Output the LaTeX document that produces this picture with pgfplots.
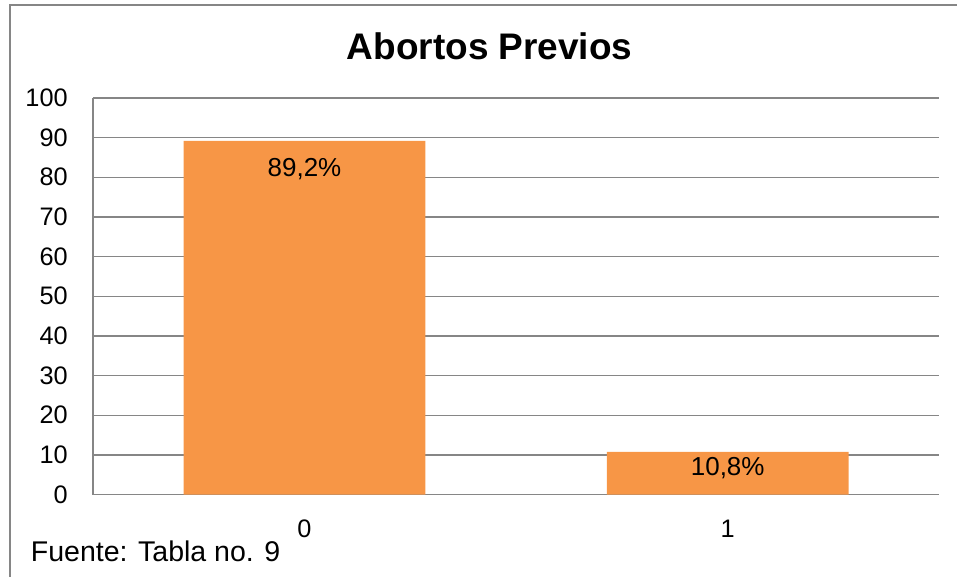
\documentclass[border=0pt]{standalone}
\usepackage{pgfplots}
\pgfplotsset{compat=1.18}
\usepackage{fontspec}
\setmainfont{Liberation Sans}
\definecolor{gridgray}{HTML}{868686}
\definecolor{barorange}{HTML}{F79646}
\begin{document}
\begin{tikzpicture}
\path (0pt,0pt) rectangle (718.5pt,432.75pt);
\draw[gridgray, line width=1.1pt] (7.5pt,0pt) -- (7.5pt,429pt) -- (718.5pt,429pt);
\node[anchor=base, inner sep=0pt, font=\fontsize{27.75pt}{30pt}\selectfont\bfseries] at (367.5pt,388.3pt) {Abortos Previos};
\node[anchor=base west, inner sep=0pt, font=\fontsize{21.4pt}{24pt}\selectfont] at (23pt,11.5pt) {Fuente: Tabla no. 9};
\begin{axis}[
  at={(69.75pt,61.5pt)}, anchor=south west,
  scale only axis, width=635.25pt, height=297.75pt,
  xmin=-0.5, xmax=1.5, ymin=0, ymax=100,
  xtick={0,1}, xticklabels={0,1},
  ytick={0,10,...,100},
  axis lines*=left,
  axis line style={draw=gridgray, line width=1pt, -},
  ymajorgrids, major grid style={draw=gridgray, line width=1pt},
  tick style={draw=none},
  tick label style={font=\fontsize{19pt}{22pt}\selectfont},
  yticklabel style={anchor=east, inner sep=0pt, xshift=-18.75pt},
  xticklabel style={anchor=north, inner sep=0pt, yshift=-14.5pt},
  /pgf/number format/assume math mode=true,
  ybar, bar width=181.5pt,
  point meta=y,
  visualization depends on={\thisrow{off} \as \off},
  nodes near coords={\pgfmathprintnumber[fixed,precision=1,use comma,fixed zerofill]{\pgfplotspointmeta}\%},
  every node near coord/.append style={anchor=center, inner sep=0pt, yshift=-\off*0.75pt, font=\fontsize{19.5pt}{22pt}\selectfont},
  clip=false,
]
\addplot[fill=barorange, draw=none] table[x=x, y=y] {
x y off
0 89.2 28
1 10.8 16
};
\end{axis}
\end{tikzpicture}
\end{document}
